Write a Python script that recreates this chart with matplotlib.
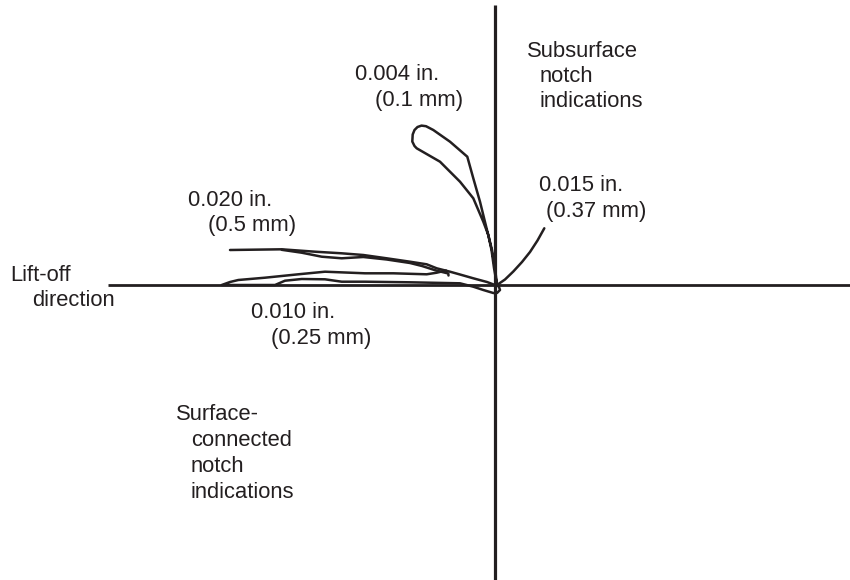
import matplotlib
matplotlib.use("Agg")
import matplotlib.pyplot as plt

INK = "#231f20"

# Impedance-plane traces (horizontal = lift-off axis, vertical = phase response)
trace_004_x = [2, 0, -3, -7, -10, -15, -21.7, -27.7, -45, -61.7, -69, -73.5, -77.5, -80.5,
               -82.3, -82.7, -80.5, -78.3, -55, -35, -21.7, -11.7, -6.7, -3.5, -1, 2]
trace_004_y = [0, 17, 35, 51, 63, 83.3, 106.7, 128.3, 143.3, 155, 158.8, 159.4, 158, 155,
               150.5, 143.5, 139, 136.7, 123.3, 103.3, 86.7, 63.3, 50, 35, 17, 0]

trace_015_x = [2, 10, 18.3, 27, 35, 42.5, 49.3]
trace_015_y = [0, 5.5, 13.5, 23, 33, 44.5, 56.7]

trace_020_out_x = [0, -8, -21.7, -35, -45, -58.3, -68.3, -85, -108.3, -131.7, -153.3,
                   -180, -213.3, -265]
trace_020_out_y = [0, 3, 6.7, 10.5, 13.3, 16.7, 20.7, 23.3, 26.7, 30, 31.7,
                   33.3, 35.7, 35]
trace_020_ret_x = [-213.3, -193.3, -173.3, -153.3, -131.7, -108.3, -85, -73, -59,
                   -46.7, -46.5]
trace_020_ret_y = [35.2, 32.3, 28.3, 26.7, 28, 25.5, 22, 19, 14.5, 11.5, 9.5]

trace_010_x = [2, 4, 5, 2, -1.7, -11.7, -21.7, -35, -85, -130, -153.3, -170, -193.3,
               -210, -220, -273.3, -265, -256.7, -230, -196.7, -170, -130, -101.7,
               -68.3, -58.3, -49]
trace_010_y = [0, -2, -5, -8, -8, -5, -1.7, 1.7, 2.7, 3.3, 3.3, 5.7, 6,
               4.3, 0, 0, 3, 5, 7.3, 10.7, 13.3, 11.7, 11.7,
               10.7, 12.3, 14.5]

# Label lines: (text, left x, baseline y) in the same plane coordinates
labels = [
    ("0.004 in.", -140, 205), ("(0.1 mm)", -120, 179),
    ("Subsurface", 32, 228), ("notch", 45, 203), ("indications", 45, 178),
    ("0.015 in.", 44, 94), ("(0.37 mm)", 51, 68),
    ("0.020 in.", -307, 79), ("(0.5 mm)", -287, 54),
    ("0.010 in.", -244, -33), ("(0.25 mm)", -224, -59),
    ("Lift-off", -485, 4), ("direction", -463, -21),
    ("Surface-", -319, -135), ("connected", -304, -161),
    ("notch", -304, -187), ("indications", -304, -213),
]

fig = plt.figure(figsize=(8.5, 5.8), dpi=100)
ax = fig.add_axes([0, 0, 1, 1])
ax.set_xlim(-495, 355)
ax.set_ylim(-295, 285)
ax.axis("off")

# Axes of the plane
ax.plot([-387, 355], [0, 0], color=INK, lw=2.0, solid_capstyle="butt", zorder=1)
ax.plot([0, 0], [-295, 280], color=INK, lw=2.3, solid_capstyle="butt", zorder=1)

curve_kw = dict(color=INK, lw=1.8, solid_joinstyle="round", solid_capstyle="round", zorder=2)
ax.plot(trace_004_x, trace_004_y, **curve_kw)
ax.plot(trace_015_x, trace_015_y, **curve_kw)
ax.plot(trace_020_out_x, trace_020_out_y, **curve_kw)
ax.plot(trace_020_ret_x, trace_020_ret_y, **curve_kw)
ax.plot(trace_010_x, trace_010_y, **curve_kw)

for text, x, y in labels:
    ax.text(x, y, text, ha="left", va="baseline", color=INK,
            fontsize=15.8, family=["Liberation Sans", "DejaVu Sans"])

fig.savefig("out.png", dpi=100)
